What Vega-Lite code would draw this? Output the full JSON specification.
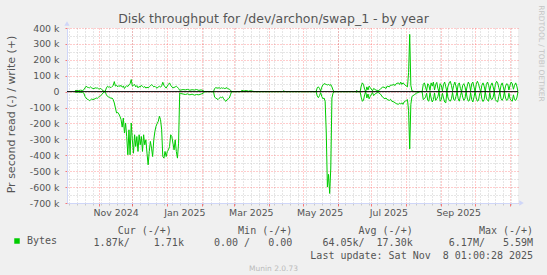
{
  "$schema": "https://vega.github.io/schema/vega-lite/v6.json",
  "width": 451,
  "height": 175,
  "autosize": {"type": "none"},
  "padding": {"left": 67, "top": 28, "right": 29, "bottom": 72},
  "background": "#f0f0f0",
  "view": {"fill": "#ffffff", "stroke": null},
  "config": {"font": "DejaVu Sans"},
  "title": {"text": "Disk throughput for /dev/archon/swap_1 - by year", "font": "DejaVu Sans", "fontSize": 12.5, "fontWeight": "normal", "color": "#555555", "anchor": "middle", "frame": "group", "dx": -19, "dy": 31, "baseline": "alphabetic", "offset": 0},
  "layer": [
    {
      "data": {"values": [
        {"date":"2024-10-11","read":-2000,"write":4000},
        {"date":"2024-10-12","read":-4000,"write":8000},
        {"date":"2024-10-14","read":-3000,"write":6000},
        {"date":"2024-10-16","read":-5000,"write":9000},
        {"date":"2024-10-18","read":-4000,"write":7000},
        {"date":"2024-10-19","read":-10000,"write":12000},
        {"date":"2024-10-20","read":-30000,"write":23000},
        {"date":"2024-10-21","read":-40000,"write":34000},
        {"date":"2024-10-22","read":-48000,"write":28000},
        {"date":"2024-10-23","read":-50000,"write":26000},
        {"date":"2024-10-24","read":-57000,"write":24000},
        {"date":"2024-10-25","read":-52000,"write":30000},
        {"date":"2024-10-26","read":-46000,"write":23000},
        {"date":"2024-10-27","read":-50000,"write":20000},
        {"date":"2024-10-28","read":-48000,"write":19000},
        {"date":"2024-10-29","read":-44000,"write":24000},
        {"date":"2024-10-30","read":-40000,"write":22000},
        {"date":"2024-10-31","read":-42000,"write":23000},
        {"date":"2024-11-01","read":-35000,"write":18000},
        {"date":"2024-11-02","read":-30000,"write":17000},
        {"date":"2024-11-03","read":-25000,"write":20000},
        {"date":"2024-11-04","read":-18000,"write":12000},
        {"date":"2024-11-05","read":-8000,"write":6000},
        {"date":"2024-11-06","read":-2000,"write":2000},
        {"date":"2024-11-07","read":-3000,"write":4000},
        {"date":"2024-11-08","read":-20000,"write":23000},
        {"date":"2024-11-09","read":-30000,"write":34000},
        {"date":"2024-11-10","read":-34000,"write":28000},
        {"date":"2024-11-11","read":-36000,"write":30000},
        {"date":"2024-11-12","read":-42000,"write":25000},
        {"date":"2024-11-13","read":-40000,"write":32000},
        {"date":"2024-11-14","read":-50000,"write":38000},
        {"date":"2024-11-15","read":-71000,"write":63000},
        {"date":"2024-11-16","read":-103000,"write":35000},
        {"date":"2024-11-17","read":-134000,"write":40000},
        {"date":"2024-11-18","read":-130000,"write":30000},
        {"date":"2024-11-19","read":-140000,"write":38000},
        {"date":"2024-11-20","read":-155000,"write":33000},
        {"date":"2024-11-21","read":-176000,"write":40000},
        {"date":"2024-11-22","read":-223000,"write":28000},
        {"date":"2024-11-23","read":-166000,"write":35000},
        {"date":"2024-11-24","read":-260000,"write":20000},
        {"date":"2024-11-25","read":-197000,"write":30000},
        {"date":"2024-11-26","read":-282000,"write":38000},
        {"date":"2024-11-27","read":-397000,"write":32000},
        {"date":"2024-11-28","read":-240000,"write":42000},
        {"date":"2024-11-29","read":-397000,"write":50000},
        {"date":"2024-11-30","read":-197000,"write":76000},
        {"date":"2024-12-01","read":-303000,"write":35000},
        {"date":"2024-12-02","read":-387000,"write":40000},
        {"date":"2024-12-03","read":-271000,"write":45000},
        {"date":"2024-12-04","read":-345000,"write":30000},
        {"date":"2024-12-05","read":-282000,"write":38000},
        {"date":"2024-12-06","read":-376000,"write":24000},
        {"date":"2024-12-07","read":-271000,"write":33000},
        {"date":"2024-12-08","read":-334000,"write":28000},
        {"date":"2024-12-09","read":-282000,"write":40000},
        {"date":"2024-12-10","read":-376000,"write":34000},
        {"date":"2024-12-11","read":-271000,"write":26000},
        {"date":"2024-12-12","read":-334000,"write":32000},
        {"date":"2024-12-13","read":-303000,"write":22000},
        {"date":"2024-12-14","read":-387000,"write":28000},
        {"date":"2024-12-15","read":-460000,"write":24000},
        {"date":"2024-12-16","read":-376000,"write":30000},
        {"date":"2024-12-17","read":-313000,"write":36000},
        {"date":"2024-12-18","read":-355000,"write":44000},
        {"date":"2024-12-19","read":-408000,"write":38000},
        {"date":"2024-12-20","read":-303000,"write":30000},
        {"date":"2024-12-21","read":-250000,"write":34000},
        {"date":"2024-12-22","read":-218000,"write":26000},
        {"date":"2024-12-23","read":-200000,"write":22000},
        {"date":"2024-12-24","read":-187000,"write":30000},
        {"date":"2024-12-25","read":-155000,"write":34000},
        {"date":"2024-12-26","read":-176000,"write":28000},
        {"date":"2024-12-27","read":-240000,"write":36000},
        {"date":"2024-12-28","read":-408000,"write":59000},
        {"date":"2024-12-29","read":-418000,"write":40000},
        {"date":"2024-12-30","read":-376000,"write":30000},
        {"date":"2024-12-31","read":-408000,"write":22000},
        {"date":"2025-01-01","read":-376000,"write":35000},
        {"date":"2025-01-02","read":-366000,"write":45000},
        {"date":"2025-01-03","read":-345000,"write":55000},
        {"date":"2025-01-04","read":-271000,"write":40000},
        {"date":"2025-01-05","read":-282000,"write":30000},
        {"date":"2025-01-06","read":-324000,"write":24000},
        {"date":"2025-01-07","read":-366000,"write":26000},
        {"date":"2025-01-08","read":-303000,"write":30000},
        {"date":"2025-01-09","read":-376000,"write":34000},
        {"date":"2025-01-10","read":-418000,"write":28000},
        {"date":"2025-01-11","read":-324000,"write":20000},
        {"date":"2025-01-12","read":-8000,"write":8000},
        {"date":"2025-01-13","read":-12000,"write":10000},
        {"date":"2025-01-15","read":-15000,"write":13000},
        {"date":"2025-01-17","read":-18000,"write":11000},
        {"date":"2025-01-19","read":-14000,"write":14000},
        {"date":"2025-01-21","read":-20000,"write":9000},
        {"date":"2025-01-23","read":-16000,"write":12000},
        {"date":"2025-01-25","read":-22000,"write":10000},
        {"date":"2025-01-27","read":-18000,"write":13000},
        {"date":"2025-01-29","read":-20000,"write":8000},
        {"date":"2025-01-31","read":-15000,"write":11000},
        {"date":"2025-02-02","read":-10000,"write":6000},
        {"date":"2025-02-03","read":0,"write":0},
        {"date":"2025-02-11","read":0,"write":0},
        {"date":"2025-02-12","read":-35000,"write":20000},
        {"date":"2025-02-13","read":-40000,"write":25000},
        {"date":"2025-02-14","read":-45000,"write":23000},
        {"date":"2025-02-15","read":-50000,"write":22000},
        {"date":"2025-02-16","read":-42000,"write":25000},
        {"date":"2025-02-17","read":-35000,"write":20000},
        {"date":"2025-02-18","read":-38000,"write":24000},
        {"date":"2025-02-19","read":-33000,"write":21000},
        {"date":"2025-02-20","read":-45000,"write":23000},
        {"date":"2025-02-21","read":-55000,"write":19000},
        {"date":"2025-02-22","read":-61000,"write":22000},
        {"date":"2025-02-23","read":-50000,"write":25000},
        {"date":"2025-02-24","read":-46000,"write":17000},
        {"date":"2025-02-25","read":-40000,"write":15000},
        {"date":"2025-02-26","read":-20000,"write":10000},
        {"date":"2025-02-27","read":0,"write":0},
        {"date":"2025-03-07","read":0,"write":0},
        {"date":"2025-03-08","read":0,"write":8000},
        {"date":"2025-03-10","read":0,"write":4000},
        {"date":"2025-03-12","read":0,"write":7000},
        {"date":"2025-03-14","read":0,"write":3000},
        {"date":"2025-03-16","read":0,"write":6000},
        {"date":"2025-03-18","read":0,"write":2000},
        {"date":"2025-03-20","read":0,"write":0},
        {"date":"2025-04-13","read":0,"write":0},
        {"date":"2025-04-14","read":0,"write":5000},
        {"date":"2025-04-15","read":0,"write":2000},
        {"date":"2025-04-16","read":0,"write":0},
        {"date":"2025-05-13","read":0,"write":0},
        {"date":"2025-05-14","read":-28000,"write":25000},
        {"date":"2025-05-15","read":-38000,"write":30000},
        {"date":"2025-05-16","read":-25000,"write":20000},
        {"date":"2025-05-17","read":-6000,"write":4000},
        {"date":"2025-05-18","read":-30000,"write":28000},
        {"date":"2025-05-19","read":-45000,"write":42000},
        {"date":"2025-05-20","read":-40000,"write":50000},
        {"date":"2025-05-21","read":-60000,"write":48000},
        {"date":"2025-05-22","read":-260000,"write":45000},
        {"date":"2025-05-23","read":-600000,"write":42000},
        {"date":"2025-05-24","read":-520000,"write":45000},
        {"date":"2025-05-25","read":-640000,"write":40000},
        {"date":"2025-05-26","read":-480000,"write":44000},
        {"date":"2025-05-27","read":-40000,"write":30000},
        {"date":"2025-05-28","read":-10000,"write":10000},
        {"date":"2025-05-29","read":0,"write":0},
        {"date":"2025-06-17","read":0,"write":0},
        {"date":"2025-06-18","read":-4000,"write":8000},
        {"date":"2025-06-19","read":0,"write":0},
        {"date":"2025-06-21","read":0,"write":0},
        {"date":"2025-06-22","read":-35000,"write":35000},
        {"date":"2025-06-23","read":-60000,"write":55000},
        {"date":"2025-06-24","read":-55000,"write":45000},
        {"date":"2025-06-25","read":-20000,"write":15000},
        {"date":"2025-06-26","read":0,"write":0},
        {"date":"2025-06-27","read":-40000,"write":30000},
        {"date":"2025-06-28","read":-15000,"write":10000},
        {"date":"2025-06-29","read":-45000,"write":35000},
        {"date":"2025-06-30","read":-30000,"write":25000},
        {"date":"2025-07-02","read":-5000,"write":5000},
        {"date":"2025-07-03","read":-25000,"write":20000},
        {"date":"2025-07-05","read":-10000,"write":10000},
        {"date":"2025-07-07","read":-5000,"write":5000},
        {"date":"2025-07-09","read":-15000,"write":15000},
        {"date":"2025-07-11","read":-35000,"write":30000},
        {"date":"2025-07-13","read":-45000,"write":25000},
        {"date":"2025-07-14","read":-40000,"write":20000},
        {"date":"2025-07-15","read":-50000,"write":35000},
        {"date":"2025-07-17","read":-55000,"write":30000},
        {"date":"2025-07-18","read":-48000,"write":42000},
        {"date":"2025-07-19","read":-60000,"write":40000},
        {"date":"2025-07-21","read":-65000,"write":45000},
        {"date":"2025-07-22","read":-70000,"write":38000},
        {"date":"2025-07-23","read":-75000,"write":50000},
        {"date":"2025-07-25","read":-80000,"write":55000},
        {"date":"2025-07-26","read":-72000,"write":45000},
        {"date":"2025-07-27","read":-78000,"write":60000},
        {"date":"2025-07-28","read":-70000,"write":45000},
        {"date":"2025-07-29","read":-80000,"write":55000},
        {"date":"2025-07-30","read":-65000,"write":50000},
        {"date":"2025-07-31","read":-60000,"write":40000},
        {"date":"2025-08-01","read":-55000,"write":35000},
        {"date":"2025-08-02","read":-50000,"write":30000},
        {"date":"2025-08-03","read":-120000,"write":120000},
        {"date":"2025-08-04","read":-360000,"write":360000},
        {"date":"2025-08-05","read":-80000,"write":40000},
        {"date":"2025-08-06","read":-30000,"write":5000},
        {"date":"2025-08-08","read":-20000,"write":0},
        {"date":"2025-08-10","read":-10000,"write":0},
        {"date":"2025-08-13","read":0,"write":0},
        {"date":"2025-08-15","read":0,"write":0},
        {"date":"2025-08-16","read":-50000,"write":45000},
        {"date":"2025-08-17","read":-45000,"write":55000},
        {"date":"2025-08-18","read":-35000,"write":30000},
        {"date":"2025-08-19","read":-10000,"write":5000},
        {"date":"2025-08-20","read":-55000,"write":50000},
        {"date":"2025-08-21","read":-60000,"write":40000},
        {"date":"2025-08-22","read":-5000,"write":8000},
        {"date":"2025-08-23","read":-40000,"write":55000},
        {"date":"2025-08-24","read":-65000,"write":35000},
        {"date":"2025-08-25","read":-50000,"write":60000},
        {"date":"2025-08-26","read":-8000,"write":10000},
        {"date":"2025-08-27","read":-55000,"write":45000},
        {"date":"2025-08-28","read":-45000,"write":58000},
        {"date":"2025-08-29","read":-30000,"write":20000},
        {"date":"2025-08-30","read":0,"write":0},
        {"date":"2025-08-31","read":-60000,"write":50000},
        {"date":"2025-09-01","read":-50000,"write":40000},
        {"date":"2025-09-02","read":-10000,"write":5000},
        {"date":"2025-09-03","read":-40000,"write":45000},
        {"date":"2025-09-04","read":-65000,"write":60000},
        {"date":"2025-09-05","read":-70000,"write":30000},
        {"date":"2025-09-06","read":0,"write":0},
        {"date":"2025-09-07","read":-40000,"write":35000},
        {"date":"2025-09-08","read":-55000,"write":55000},
        {"date":"2025-09-09","read":-60000,"write":65000},
        {"date":"2025-09-10","read":-45000,"write":40000},
        {"date":"2025-09-11","read":-5000,"write":5000},
        {"date":"2025-09-12","read":-50000,"write":40000},
        {"date":"2025-09-13","read":-55000,"write":60000},
        {"date":"2025-09-14","read":-30000,"write":35000},
        {"date":"2025-09-15","read":0,"write":0},
        {"date":"2025-09-16","read":-45000,"write":45000},
        {"date":"2025-09-17","read":-60000,"write":55000},
        {"date":"2025-09-18","read":-25000,"write":20000},
        {"date":"2025-09-19","read":0,"write":0},
        {"date":"2025-09-20","read":-35000,"write":40000},
        {"date":"2025-09-21","read":-55000,"write":50000},
        {"date":"2025-09-22","read":-45000,"write":30000},
        {"date":"2025-09-23","read":0,"write":0},
        {"date":"2025-09-24","read":-40000,"write":35000},
        {"date":"2025-09-25","read":-60000,"write":60000},
        {"date":"2025-09-26","read":-55000,"write":45000},
        {"date":"2025-09-27","read":-5000,"write":5000},
        {"date":"2025-09-28","read":-50000,"write":50000},
        {"date":"2025-09-29","read":-65000,"write":60000},
        {"date":"2025-09-30","read":-35000,"write":30000},
        {"date":"2025-10-01","read":0,"write":0},
        {"date":"2025-10-02","read":-40000,"write":45000},
        {"date":"2025-10-03","read":-60000,"write":65000},
        {"date":"2025-10-04","read":-55000,"write":50000},
        {"date":"2025-10-05","read":-15000,"write":20000},
        {"date":"2025-10-06","read":0,"write":0},
        {"date":"2025-10-07","read":-45000,"write":40000},
        {"date":"2025-10-08","read":-62000,"write":55000},
        {"date":"2025-10-09","read":-50000,"write":35000},
        {"date":"2025-10-10","read":0,"write":0},
        {"date":"2025-10-11","read":-40000,"write":45000},
        {"date":"2025-10-12","read":-55000,"write":60000},
        {"date":"2025-10-13","read":-60000,"write":40000},
        {"date":"2025-10-14","read":-5000,"write":5000},
        {"date":"2025-10-15","read":-45000,"write":40000},
        {"date":"2025-10-16","read":-50000,"write":55000},
        {"date":"2025-10-17","read":-35000,"write":30000},
        {"date":"2025-10-18","read":0,"write":0},
        {"date":"2025-10-19","read":-50000,"write":45000},
        {"date":"2025-10-20","read":-60000,"write":65000},
        {"date":"2025-10-21","read":-65000,"write":55000},
        {"date":"2025-10-22","read":-30000,"write":25000},
        {"date":"2025-10-23","read":0,"write":0},
        {"date":"2025-10-24","read":-45000,"write":40000},
        {"date":"2025-10-25","read":-55000,"write":55000},
        {"date":"2025-10-26","read":-40000,"write":30000},
        {"date":"2025-10-27","read":0,"write":0},
        {"date":"2025-10-28","read":-40000,"write":35000},
        {"date":"2025-10-29","read":-55000,"write":50000},
        {"date":"2025-10-30","read":-50000,"write":45000},
        {"date":"2025-10-31","read":-10000,"write":10000},
        {"date":"2025-11-01","read":-45000,"write":40000},
        {"date":"2025-11-02","read":-55000,"write":60000},
        {"date":"2025-11-03","read":-60000,"write":50000},
        {"date":"2025-11-04","read":-20000,"write":15000},
        {"date":"2025-11-05","read":-50000,"write":40000},
        {"date":"2025-11-06","read":-55000,"write":55000},
        {"date":"2025-11-07","read":-40000,"write":35000},
        {"date":"2025-11-08","read":-2000,"write":2000}
      ]},
      "transform": [{"fold": ["read", "write"], "as": ["dir", "rate"]}],
      "mark": {"type": "line", "strokeWidth": 1, "interpolate": "linear"},
      "encoding": {
        "x": {
          "field": "date", "type": "temporal",
          "scale": {"type": "utc", "domain": [{"year": 2024, "month": 10, "date": 4, "hours": 1, "utc": true}, {"year": 2025, "month": 11, "date": 8, "hours": 1, "utc": true}]},
          "axis": {
            "orient": "bottom", "tickCount": {"interval": "week", "step": 1}, "labels": false, "domain": false,
            "ticks": true, "tickColor": "#c8c8c8", "tickSize": 2,
            "grid": true, "gridColor": "#cccccc", "gridDash": [1, 2], "gridOpacity": 1,
            "title": "Munin 2.0.73", "titleFont": "DejaVu Sans", "titleFontSize": 7.5, "titleFontWeight": "normal", "titleColor": "#bbbbbb",
            "titleX": 206, "titleY": 67, "titleAlign": "center", "titleBaseline": "alphabetic", "titleAngle": 0
          }
        },
        "y": {
          "field": "rate", "type": "quantitative",
          "scale": {"domain": [-700000, 400000], "nice": false, "zero": false},
          "axis": {
            "orient": "right", "values": [-650000, -550000, -450000, -350000, -250000, -150000, -50000, 50000, 150000, 250000, 350000],
            "labels": false, "domain": false, "ticks": false,
            "grid": true, "gridColor": "#cccccc", "gridDash": [1, 2],
            "title": "RRDTOOL / TOBI OETIKER", "titleFont": "DejaVu Sans", "titleFontSize": 7.5, "titleFontWeight": "normal", "titleColor": "#c4c4c4", "titleLimit": 300,
            "titleX": 22, "titleY": 25, "titleAngle": 90, "titleAlign": "center", "titleBaseline": "middle"
          }
        },
        "color": {
          "datum": "Bytes",
          "scale": {"domain": ["Bytes"], "range": ["#00cc00"]},
          "legend": {
            "orient": "none", "legendX": -55, "legendY": 208, "title": null, "padding": 0,
            "symbolType": "square", "symbolSize": 30, "symbolFillColor": "#00cc00", "symbolStrokeColor": "#00cc00", "symbolStrokeWidth": 0,
            "labelFont": "DejaVu Sans Mono", "labelFontSize": 10, "labelColor": "#555555", "labelOffset": 5
          }
        },
        "detail": {"field": "dir"}
      }
    },
    {
      "data": {"values": [{}]},
      "mark": {"type": "rule", "color": "#000000", "strokeWidth": 1},
      "encoding": {
        "x": {
          "datum": {"year": 2024, "month": 10, "date": 4, "hours": 1, "utc": true}, "type": "temporal",
          "scale": {"type": "utc", "domain": [{"year": 2024, "month": 10, "date": 4, "hours": 1, "utc": true}, {"year": 2025, "month": 11, "date": 8, "hours": 1, "utc": true}]},
          "axis": {
            "orient": "bottom", "tickCount": {"interval": "month", "step": 1},
            "labelExpr": "(utcmonth(datum.value) % 2 == 0 && datum.value < utc(2025, 9, 1)) ? utcFormat(datum.value, '%b %Y') : ''",
            "labelFont": "DejaVu Sans", "labelFontSize": 9.4, "labelColor": "#555555", "labelOffset": 17, "labelPadding": 2,
            "labelOverlap": false, "labelFlush": false, "labelBound": false,
            "tickColor": "#ff0000", "tickOpacity": 0.5, "tickSize": 3,
            "domainColor": "#CFD6F8", "domainWidth": 1,
            "grid": true, "gridColor": "#ff0000", "gridOpacity": 0.4, "gridDash": [1, 2],
            "title": ["Cur\u00a0(-/+)\u00a0\u00a0\u00a0\u00a0\u00a0\u00a0\u00a0\u00a0\u00a0\u00a0\u00a0Min\u00a0(-/+)\u00a0\u00a0\u00a0\u00a0\u00a0\u00a0\u00a0\u00a0\u00a0\u00a0\u00a0Avg\u00a0(-/+)\u00a0\u00a0\u00a0\u00a0\u00a0\u00a0\u00a0\u00a0\u00a0\u00a0\u00a0Max\u00a0(-/+)\u00a0", "1.87k/\u00a0\u00a0\u00a0\u00a01.71k\u00a0\u00a0\u00a0\u00a0\u00a00.00\u00a0/\u00a0\u00a0\u00a00.00\u00a0\u00a0\u00a0\u00a0\u00a064.05k/\u00a0\u00a017.30k\u00a0\u00a0\u00a0\u00a0\u00a0\u00a06.17M/\u00a0\u00a0\u00a05.59M", "Last\u00a0update:\u00a0Sat\u00a0Nov\u00a0\u00a08\u00a001:00:28\u00a02025"],
            "titleFont": "DejaVu Sans Mono", "titleFontSize": 10, "titleFontWeight": "normal", "titleColor": "#555555", "titleLimit": 600,
            "titleX": 465.6, "titleY": 30, "titleAlign": "right", "titleBaseline": "alphabetic", "titleLineHeight": 12.5, "titleAngle": 0
          }
        },
        "x2": {"datum": {"year": 2025, "month": 11, "date": 8, "hours": 1, "utc": true}},
        "y": {
          "datum": 0, "type": "quantitative",
          "scale": {"domain": [-700000, 400000], "nice": false, "zero": false},
          "axis": {
            "orient": "left", "values": [-700000, -600000, -500000, -400000, -300000, -200000, -100000, 0, 100000, 200000, 300000, 400000],
            "labelExpr": "datum.value == 0 ? '0' : (datum.value / 1000) + ' k'",
            "labelFont": "DejaVu Sans", "labelFontSize": 9.4, "labelColor": "#555555", "labelPadding": 6,
            "labelOverlap": false, "labelFlush": false, "labelBound": false,
            "tickColor": "#ff0000", "tickOpacity": 0.5, "tickSize": 2,
            "domainColor": "#CFD6F8", "domainWidth": 1,
            "grid": true, "gridColor": "#ff0000", "gridOpacity": 0.4, "gridDash": [1, 2],
            "title": "Pr second read (-) / write (+)", "titleFont": "DejaVu Sans", "titleFontSize": 11, "titleFontWeight": "normal", "titleColor": "#555555", "titleLimit": 300,
            "titleX": -56, "titleY": 86, "titleAngle": 270, "titleAlign": "center", "titleBaseline": "middle"
          }
        }
      }
    },
    {
      "data": {"values": [{}]},
      "mark": {"type": "point", "shape": "triangle-up", "filled": true, "size": 28, "color": "#CFD6F8", "opacity": 1, "yOffset": -4.5},
      "encoding": {
        "x": {"datum": {"year": 2024, "month": 10, "date": 4, "hours": 1, "utc": true}, "type": "temporal", "axis": null},
        "y": {"datum": 400000, "type": "quantitative", "axis": null}
      }
    },
    {
      "data": {"values": [{}]},
      "mark": {"type": "point", "shape": "triangle-right", "filled": true, "size": 28, "color": "#CFD6F8", "opacity": 1, "xOffset": 3.5},
      "encoding": {
        "x": {"datum": {"year": 2025, "month": 11, "date": 8, "hours": 1, "utc": true}, "type": "temporal", "axis": null},
        "y": {"datum": -700000, "type": "quantitative", "axis": null}
      }
    }
  ],
  "resolve": {"axis": {"x": "independent", "y": "independent"}}
}
